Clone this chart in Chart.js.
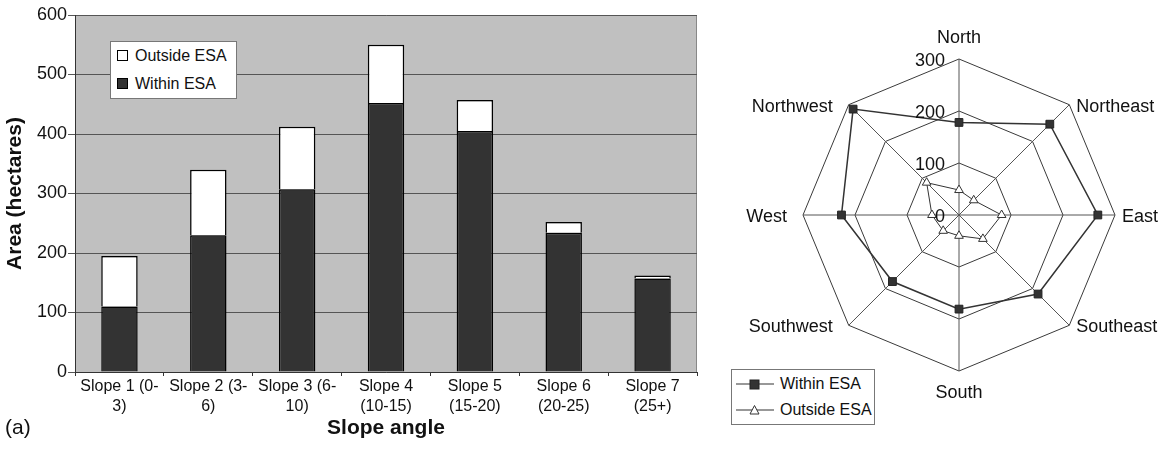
<!DOCTYPE html>
<html>
<head>
<meta charset="utf-8">
<script src="https://cdn.jsdelivr.net/npm/chart.js@4/dist/chart.umd.min.js"></script>
<style>
  body { margin:0; background:#fff; width:1169px; height:454px; position:relative; overflow:hidden;
         font-family:"Liberation Sans", Arial, sans-serif; color:#111; }
  #barBox { position:absolute; left:0; top:0; width:720px; height:454px; }
  #radarBox { position:absolute; left:720px; top:0; width:449px; height:454px; }
  .lg { position:absolute; background:#fff; border:1px solid #777; font-size:16px; }
  .lg div { position:absolute; white-space:nowrap; line-height:18px; }
  .sw { display:inline-block; width:9px; height:9px; border:1px solid #000; vertical-align:0px; margin-right:7px; }
  #tagA { position:absolute; left:5px; top:415px; font-size:21px; line-height:24px; }
</style>
</head>
<body>
<div id="barBox"><canvas id="bar"></canvas></div>
<div id="radarBox"><canvas id="radar"></canvas></div>
<div id="barLegend" class="lg" style="left:110px;top:41px;width:125px;height:56px"></div>
<div id="radarLegend" class="lg" style="left:731px;top:369px;width:142px;height:54px"></div>
<div id="tagA">(a)</div>
<script>
// --- Data ---
const slopeLabels = [['Slope 1 (0-', '3)'], ['Slope 2 (3-', '6)'], ['Slope 3 (6-', '10)'],
  ['Slope 4', '(10-15)'], ['Slope 5', '(15-20)'], ['Slope 6', '(20-25)'], ['Slope 7', '(25+)']];
const withinArea = [110, 230, 307, 452, 405, 234, 157];
const outsideArea = [85, 110, 105, 98, 52, 18, 5];

const directions = ['North', 'Northeast', 'East', 'Southeast', 'South', 'Southwest', 'West', 'Northwest'];
const withinDir = [178, 247, 267, 215, 181, 181, 226, 288];
const outsideDir = [48, 40, 82, 65, 40, 43, 52, 88];

const FONT = '"Liberation Sans", Arial, sans-serif';
Chart.defaults.font.family = FONT;
Chart.defaults.color = '#111';
Chart.defaults.animation = false;

// --- Bar chart ---
const plotBg = {
  id: 'plotBg',
  beforeDraw(chart) {
    const { ctx, chartArea: a } = chart;
    ctx.save();
    ctx.fillStyle = '#c0c0c0';
    ctx.fillRect(a.left, a.top, a.width, a.height);
    ctx.strokeStyle = '#888';
    ctx.lineWidth = 1;
    ctx.beginPath();
    ctx.moveTo(a.left, a.top + 0.5);
    ctx.lineTo(a.right - 0.5, a.top + 0.5);
    ctx.lineTo(a.right - 0.5, a.bottom);
    ctx.stroke();
    ctx.restore();
  }
};

const barSets = [
  { label: 'Within ESA', data: withinArea, backgroundColor: '#333', borderColor: '#000', borderWidth: 1.5 },
  { label: 'Outside ESA', data: outsideArea, backgroundColor: '#fff', borderColor: '#000', borderWidth: 1.5 }
];

new Chart(document.getElementById('bar'), {
  type: 'bar',
  data: { labels: slopeLabels, datasets: barSets },
  options: {
    responsive: true, maintainAspectRatio: false,
    categoryPercentage: 1, barPercentage: 0.41,
    layout: { padding: { left: 5, top: 15, right: 23, bottom: 15 } },
    plugins: { legend: { display: false }, tooltip: { enabled: false } },
    scales: {
      x: {
        stacked: true,
        grid: { offset: true, drawOnChartArea: false, color: '#333', tickLength: 4 },
        border: { color: '#333' },
        ticks: { font: { size: 16, lineHeight: 1.25 }, color: '#111', maxRotation: 0, padding: 1 },
        title: { display: true, text: 'Slope angle', font: { size: 21, weight: 'bold', lineHeight: 1 },
                 color: '#111', padding: { top: 0, bottom: 0 } }
      },
      y: {
        stacked: true, min: 0, max: 600,
        grid: { color: '#555', tickLength: 7 },
        border: { color: '#333' },
        ticks: { stepSize: 100, font: { size: 18 }, color: '#111', padding: 1 },
        title: { display: true, text: 'Area (hectares)', font: { size: 21, weight: 'bold', lineHeight: 1 },
                 color: '#111', padding: { top: 0, bottom: 10 } }
      }
    }
  },
  plugins: [plotBg]
});

// legend inside the plot, Outside ESA listed first
const bl = document.getElementById('barLegend');
[barSets[1], barSets[0]].forEach((ds, i) => {
  const d = document.createElement('div');
  d.style.left = '6px';
  d.style.top = (5 + i * 28) + 'px';
  d.innerHTML = `<span class="sw" style="background:${ds.backgroundColor}"></span>${ds.label}`;
  bl.appendChild(d);
});

// --- Radar chart ---
// tick values and direction names drawn at positions taken from the radial scale
const radarText = {
  id: 'radarText',
  afterDraw(chart) {
    const s = chart.scales.r, ctx = chart.ctx;
    ctx.save();
    ctx.font = '18px ' + FONT;
    ctx.fillStyle = '#111';
    ctx.textBaseline = 'middle';
    ctx.textAlign = 'right';
    s.ticks.forEach(t => {
      const d = s.getDistanceFromCenterForValue(t.value);
      ctx.fillText(t.label, s.xCenter - 14, s.yCenter - d + 2);
    });
    directions.forEach((name, i) => {
      const p = s.getPointPosition(i, s.drawingArea);
      const dx = p.x - s.xCenter;
      if (Math.abs(dx) < 1) {
        ctx.textAlign = 'center';
        ctx.fillText(name, p.x, p.y + (p.y < s.yCenter ? -21 : 22));
      } else if (dx > 0) {
        ctx.textAlign = 'left';
        ctx.fillText(name, p.x + 7, p.y + 2);
      } else {
        ctx.textAlign = 'right';
        ctx.fillText(name, p.x - 16, p.y + 2);
      }
    });
    ctx.restore();
  }
};

const radarSets = [
  { label: 'Within ESA', data: withinDir, borderColor: '#333', borderWidth: 1.5, fill: false,
    pointStyle: 'rect', pointRadius: 5.5, pointBackgroundColor: '#333', pointBorderColor: '#222', pointBorderWidth: 1 },
  { label: 'Outside ESA', data: outsideDir, borderColor: '#333', borderWidth: 1, fill: false,
    pointStyle: 'triangle', pointRadius: 5, pointBackgroundColor: '#fff', pointBorderColor: '#333', pointBorderWidth: 1 }
];

new Chart(document.getElementById('radar'), {
  type: 'radar',
  data: { labels: directions, datasets: radarSets },
  options: {
    responsive: true, maintainAspectRatio: false,
    layout: { padding: { left: 83, right: 54, top: 59, bottom: 83 } },
    plugins: { legend: { display: false }, tooltip: { enabled: false } },
    scales: {
      r: {
        min: 0, max: 300,
        ticks: { stepSize: 100, display: false },
        grid: { color: '#3a3a3a', lineWidth: 1 },
        angleLines: { color: '#555', lineWidth: 1 },
        pointLabels: { display: false }
      }
    }
  },
  plugins: [radarText]
});

const rl = document.getElementById('radarLegend');
radarSets.forEach((ds, i) => {
  const marker = ds.pointStyle === 'rect'
    ? '<rect x="14" y="4" width="9" height="9" fill="#333" stroke="#222"/>'
    : '<polygon points="18.5,3.5 23,12 14,12" fill="#fff" stroke="#333"/>';
  const d = document.createElement('div');
  d.style.left = '4px';
  d.style.top = (5 + i * 26) + 'px';
  d.innerHTML = `<svg width="38" height="16" style="vertical-align:-3px;margin-right:6px">` +
    `<line x1="0" y1="8" x2="38" y2="8" stroke="#333" stroke-width="1.2"/>${marker}</svg>${ds.label}`;
  rl.appendChild(d);
});
</script>
</body>
</html>
